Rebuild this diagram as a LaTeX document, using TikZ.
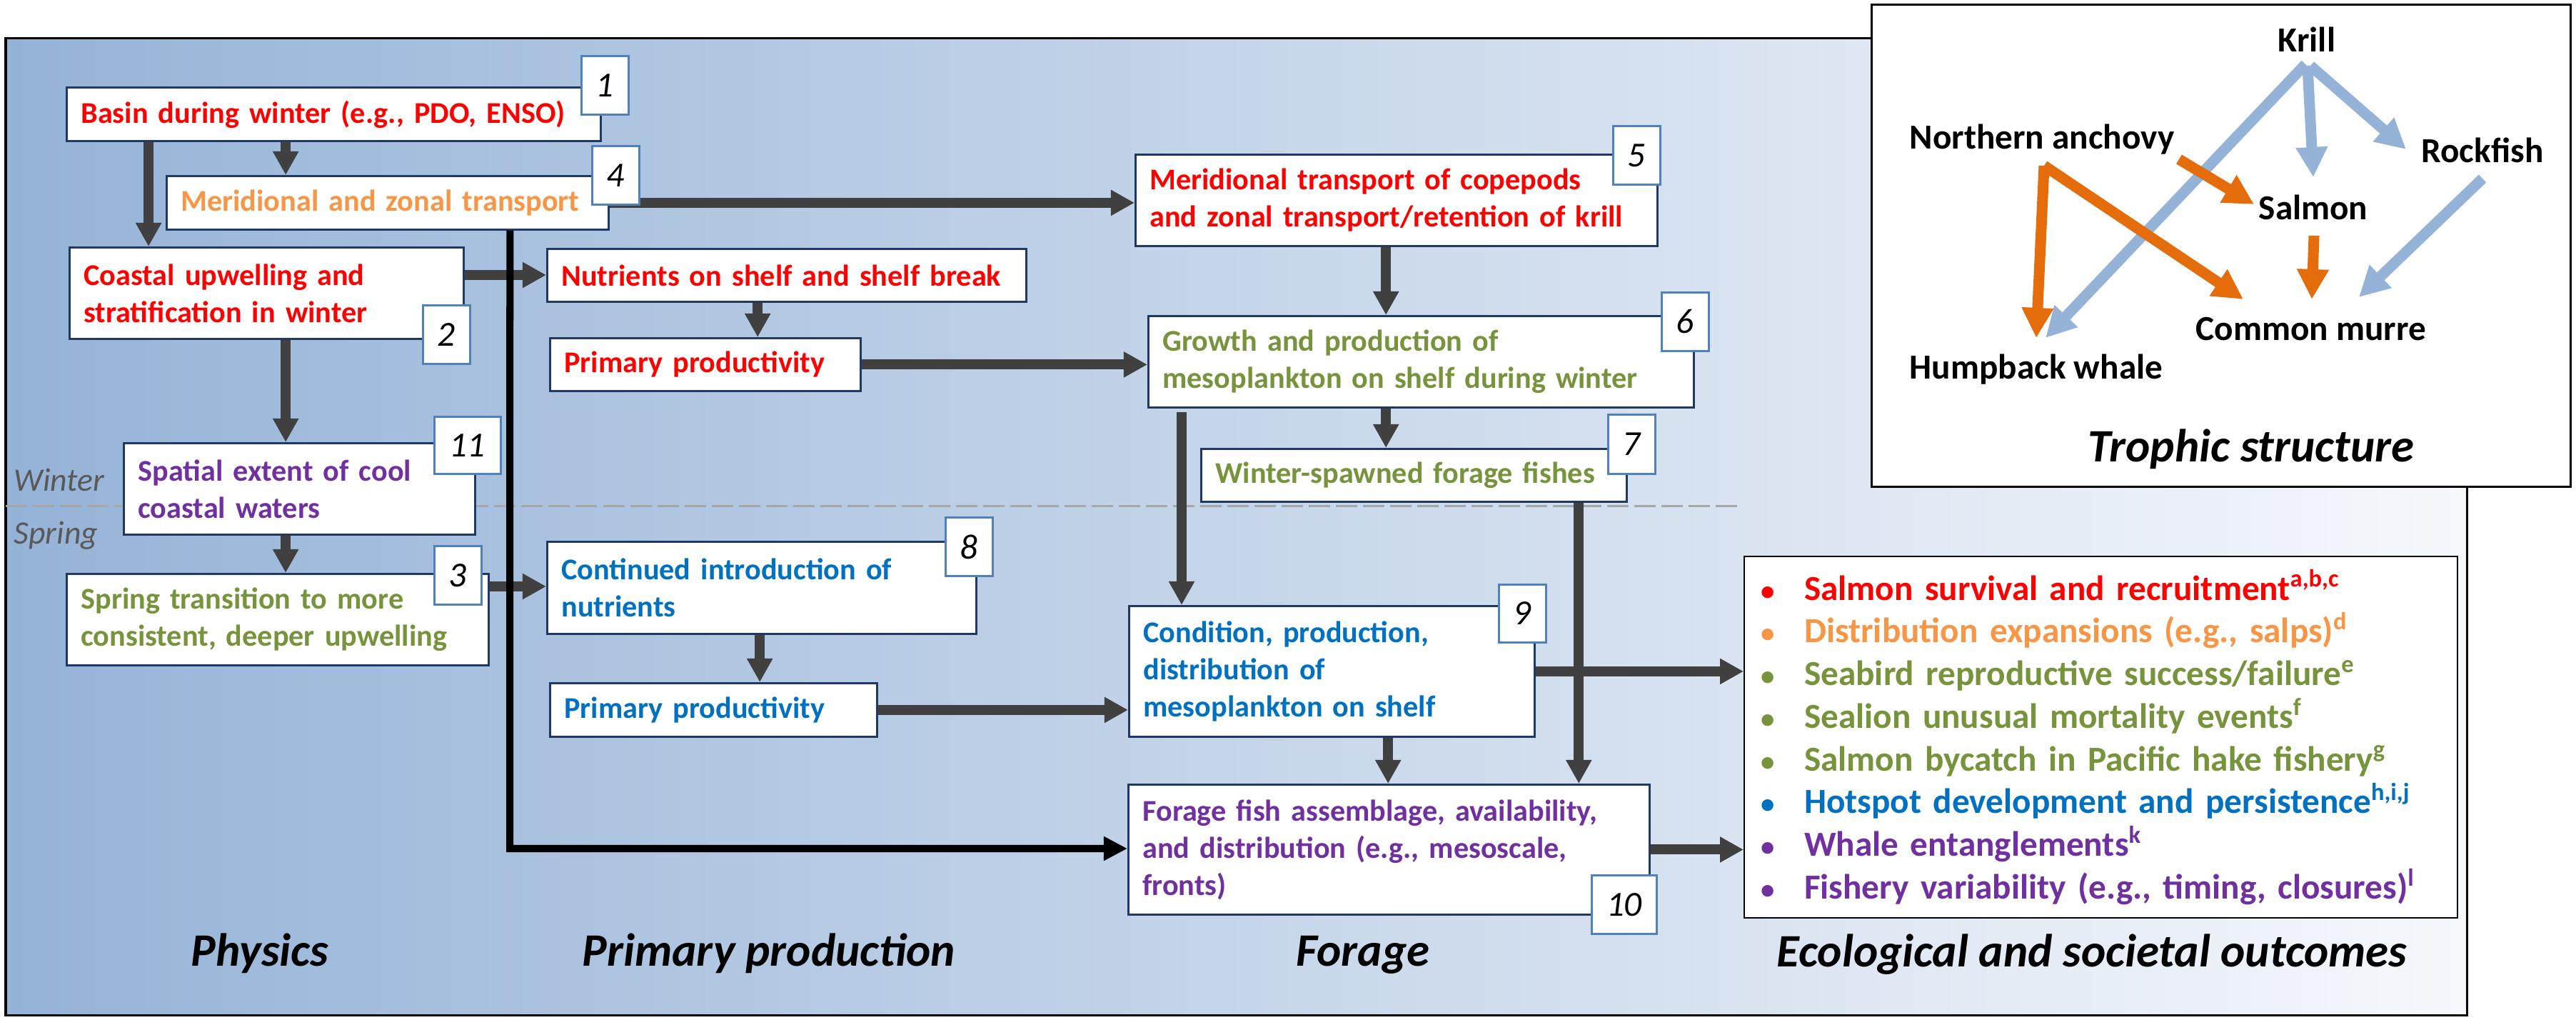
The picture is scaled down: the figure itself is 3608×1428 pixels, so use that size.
\documentclass[tikz,border=0pt]{standalone}
\usepackage{fontspec}
\setmainfont{Carlito}
\usetikzlibrary{arrows.meta,calc}
\definecolor{cred}{HTML}{FF0000}
\definecolor{corange}{HTML}{F79646}
\definecolor{cgreen}{HTML}{77933C}
\definecolor{cblue}{HTML}{0070C0}
\definecolor{cpurple}{HTML}{7030A0}
\definecolor{boxline}{HTML}{1F3864}
\definecolor{tagline}{HTML}{4F81BD}
\definecolor{arrowgray}{HTML}{404040}
\definecolor{trblue}{HTML}{95B3D7}
\definecolor{trorange}{HTML}{E46C0A}
\definecolor{bgl}{RGB}{149,179,215}
\definecolor{bgr}{RGB}{246,248,252}
\definecolor{dashgray}{HTML}{A6A6A6}
\definecolor{seasongray}{HTML}{595959}
\newcommand\obul{\makebox[0.61cm][l]{\fontsize{11}{11}\selectfont\textbullet}}
\tikzset{
  box/.style={draw=boxline, fill=white, line width=0.8pt, inner xsep=0.2cm, inner ysep=0pt,
    align=left, anchor=north west, font=\bfseries\fontsize{12}{14.8}\selectfont},
  tag/.style={draw=tagline, fill=white, line width=0.8pt, inner sep=0pt, anchor=north west,
    minimum width=0.66cm, minimum height=0.82cm, font=\itshape\fontsize{14}{14}\selectfont},
  flow/.style={draw=arrowgray, line width=0.14cm, -{Triangle[length=0.33cm,width=0.34cm]}},
  blackflow/.style={draw=black, line width=0.1cm, line join=miter, -{Triangle[length=0.33cm,width=0.32cm]}},
  lbl/.style={font=\bfseries\itshape\fontsize{18.5}{18.5}\selectfont},
  season/.style={font=\itshape\fontsize{13}{13}\selectfont, text=seasongray, anchor=west, inner sep=0pt},
  troph/.style={font=\bfseries\fontsize{14}{14}\selectfont, inner sep=0pt},
  tb/.style={draw=trblue, line width=0.15cm, -{Triangle[length=0.42cm,width=0.42cm]}},
  to/.style={draw=trorange, line width=0.15cm, -{Triangle[length=0.42cm,width=0.42cm]}},
}
\begin{document}
\begin{tikzpicture}[x=0.01cm,y=-0.01cm]
\useasboundingbox (0,0) rectangle (3608,1428);
% background panel
\shade[left color=bgl, right color=bgr] (8,54) rectangle (3455,1421);
\draw[line width=0.03cm] (8,54) rectangle (3455,1421);
% winter/spring divider
\draw[dashgray, line width=0.03cm, dash pattern=on 0.3cm off 0.08cm] (8,709) -- (2437,709);
\node[season] (winter) at (19,672) {Winter};
\node[season] (spring) at (19,750) {Spring};

% boxes
\node[box, text width=7.08cm, minimum height=0.75cm, text=cred] (B1) at (92,121) {Basin during winter (e.g., PDO, ENSO)};
\node[box, text width=5.79cm, minimum height=0.75cm, text=corange] (B4) at (232,245) {Meridional and zonal transport};
\node[box, text width=5.12cm, minimum height=1.28cm, text=cred] (B2) at (96,345) {Coastal upwelling and\\stratification in winter};
\node[box, text width=6.31cm, minimum height=0.74cm, text=cred] (BN) at (765,347) {Nutrients on shelf and shelf break};
\node[box, text width=3.95cm, minimum height=0.74cm, text=cred] (BP1) at (769,472) {Primary productivity};
\node[box, text width=4.52cm, minimum height=1.28cm, text=cpurple] (B11) at (172,619) {Spatial extent of cool\\coastal waters};
\node[box, text width=5.51cm, minimum height=1.28cm, text=cgreen] (B3) at (92,802) {Spring transition to more\\consistent, deeper upwelling};
\node[box, text width=5.61cm, minimum height=1.29cm, text=cblue] (B8) at (765,757) {Continued introduction of\\nutrients};
\node[box, text width=4.18cm, minimum height=0.75cm, text=cblue] (BP2) at (769,955) {Primary productivity};
\node[box, text width=6.91cm, minimum height=1.28cm, text=cred] (B5) at (1589,215) {Meridional transport of copepods\\and zonal transport/retention of krill};
\node[box, text width=7.24cm, minimum height=1.28cm, text=cgreen] (B6) at (1607,441) {Growth and production of\\mesoplankton on shelf during winter};
\node[box, text width=5.56cm, minimum height=0.74cm, text=cgreen] (B7) at (1681,627) {Winter-spawned forage fishes};
\node[box, text width=5.28cm, minimum height=1.83cm, text=cblue] (B9) at (1580,847) {Condition, production,\\distribution of\\mesoplankton on shelf};
\node[box, text width=6.90cm, minimum height=1.82cm, text=cpurple] (B10) at (1579,1097) {Forage fish assemblage, availability,\\and distribution (e.g., mesoscale,\\fronts)};

% outcomes
\node[draw=black, fill=white, line width=0.6pt, anchor=north west, text width=9.52cm, minimum height=5.06cm,
  inner xsep=0.23cm, inner ysep=0pt, align=left, font=\bfseries\fontsize{14}{17}\selectfont] (OUT) at (2442,778) {%
\textcolor{cred}{\obul Salmon survival and recruitment\textsuperscript{a,b,c}}\\
\textcolor{corange}{\obul Distribution expansions (e.g., salps)\textsuperscript{d}}\\
\textcolor{cgreen}{\obul Seabird reproductive success/failure\textsuperscript{e}}\\
\textcolor{cgreen}{\obul Sealion unusual mortality events\textsuperscript{f}}\\
\textcolor{cgreen}{\obul Salmon bycatch in Pacific hake fishery\textsuperscript{g}}\\
\textcolor{cblue}{\obul Hotspot development and persistence\textsuperscript{h,i,j}}\\
\textcolor{cpurple}{\obul Whale entanglements\textsuperscript{k}}\\
\textcolor{cpurple}{\obul Fishery variability (e.g., timing, closures)\textsuperscript{l}}};

% gray arrows
\draw[flow] ([xshift=1.16cm]B1.south west) -- ([xshift=1.16cm]B1.south west |- B2.north);
\draw[flow] ([xshift=3.08cm]B1.south west) -- ([xshift=3.08cm]B1.south west |- B4.north);
\draw[flow] (B4.east) -- (B4.east -| B5.west);
\draw[flow] ([yshift=-0.4cm]B2.north east) -- ([yshift=-0.4cm]B2.north east -| BN.west);
\draw[flow] ([xshift=2.96cm]BN.south west) -- ([xshift=2.96cm]BN.south west |- BP1.north);
\draw[flow] ([xshift=3.04cm]B2.south west) -- ([xshift=3.04cm]B2.south west |- B11.north);
\draw[flow] (BP1.east) -- (BP1.east -| B6.west);
\draw[flow] ([xshift=3.52cm]B5.south west) -- ([xshift=3.52cm]B5.south west |- B6.north);
\draw[flow] ([xshift=3.34cm]B6.south west) -- ([xshift=3.34cm]B6.south west |- B7.north);
\draw[flow] ([xshift=0.48cm,yshift=-0.05cm]B6.south west) -- ([xshift=0.48cm]B6.south west |- B9.north);
\draw[flow] ([xshift=5.30cm]B7.south west) -- ([xshift=5.30cm]B7.south west |- B10.north);
\draw[flow] ([xshift=2.28cm]B11.south west) -- ([xshift=2.28cm]B11.south west |- B3.north);
\draw[flow] ([yshift=-0.19cm]B3.north east) -- ([yshift=-0.19cm]B3.north east -| B8.west);
\draw[flow] ([xshift=2.99cm]B8.south west) -- ([xshift=2.99cm]B8.south west |- BP2.north);
\draw[flow] (BP2.east) -- (BP2.east -| B9.west);
\draw[flow] ([xshift=3.64cm]B9.south west) -- ([xshift=3.64cm]B9.south west |- B10.north);
\draw[flow] (B9.east) -- (B9.east -| OUT.west);
\draw[flow] (B10.east) -- (B10.east -| OUT.west);
% black path
\coordinate (blk) at (714,1188);
\draw[blackflow] ([xshift=4.82cm]B4.south west) -- (blk) -- (blk -| B10.west);

% tags
\node[tag] (t1) at (813,77) {1};
\node[tag] (t4) at (828,203) {4};
\node[tag] (t2) at (591,426) {2};
\node[tag, minimum width=0.93cm, minimum height=0.80cm] (t11) at (607,582) {11};
\node[tag] (t3) at (607,763) {3};
\node[tag] (t8) at (1323,723) {8};
\node[tag] (t5) at (2258,175) {5};
\node[tag] (t6) at (2326,408) {6};
\node[tag, minimum height=0.83cm] (t7) at (2251,579) {7};
\node[tag, minimum height=0.81cm] (t9) at (2098,817) {9};
\node[tag, minimum width=0.91cm] (t10) at (2228,1224) {10};

% column labels
\node[lbl] (lphys) at (364,1335) {Physics};
\node[lbl] (lprim) at (1077,1335) {Primary production};
\node[lbl] (lfor) at (1909,1337) {Forage};
\node[lbl] (leco) at (2930,1336) {Ecological and societal outcomes};

% trophic structure inset
\draw[fill=white, line width=0.03cm] (2621,7) rectangle (3600,682);
\node[troph] (kr) at (3231,55) {Krill};
\node[troph] (an) at (2860,195) {Northern anchovy};
\node[troph] (rf) at (3477,210) {Rockfish};
\node[troph] (sa) at (3240,290) {Salmon};
\node[troph] (cm) at (3237,461) {Common murre};
\node[troph] (hw) at (2852,517) {Humpback whale};
\node[lbl] (ltro) at (3153,629) {Trophic structure};
\draw[tb] ([shift={(-2,35)}]kr.center) -- ([shift={(13,-44)}]hw.center);
\draw[tb] ([shift={(1,37)}]kr.center) -- ([shift={(0,-42)}]sa.center);
\draw[tb] ([shift={(5,37)}]kr.center) -- ([shift={(-107,-1)}]rf.center);
\draw[tb] ([shift={(0,40)}]rf.center) -- ([shift={(67,-45)}]cm.center);
\draw[to] ([shift={(3,37)}]an.center) -- ([shift={(0,-44)}]hw.center);
\draw[to] ([shift={(3,37)}]an.center) -- ([shift={(-95,-42)}]cm.center);
\draw[to] ([shift={(192,28)}]an.center) -- ([shift={(-83,-4)}]sa.center);
\draw[to] ([shift={(1,40)}]sa.center) -- ([shift={(1,-42)}]cm.center);
\end{tikzpicture}
\end{document}
